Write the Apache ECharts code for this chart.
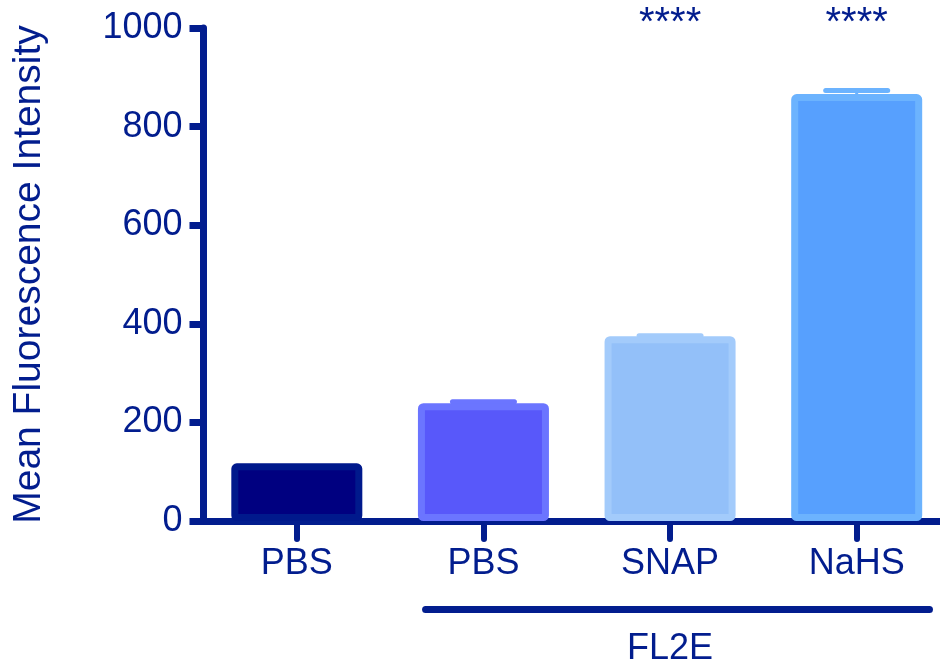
<!DOCTYPE html>
<html>
<head>
<meta charset="utf-8">
<script src="https://cdn.jsdelivr.net/npm/echarts@6/dist/echarts.min.js"></script>
<style>html,body{margin:0;padding:0;background:#fff;overflow:hidden;width:940px;height:670px}#c{width:950px;height:670px}</style>
</head>
<body>
<div id="c"></div>
<script>
var categories = ['PBS', 'PBS', 'SNAP', 'NaHS'];
var means = [117, 239, 375, 866];
var errors = [0, 3, 1, 7];
var stars = ['', '', '****', '****'];
var groupLabel = 'FL2E';
var groupStart = 1, groupEnd = 3;
var yTicks = [0, 200, 400, 600, 800, 1000];

var fills = ['#000080', '#5858fa', '#93c0f9', '#57a0fe'];
var borders = ['#00198c', '#6b75ff', '#a3cbfb', '#6cb3fe'];
var ink = '#021d8e';
var font = '"Liberation Sans", Arial, Helvetica, sans-serif';

var chart = echarts.init(document.getElementById('c'), null, {renderer: 'canvas'});

var barData = means.map(function (v, i) {
  return {value: v, itemStyle: {color: fills[i], borderColor: borders[i], borderWidth: 7, borderRadius: 2}};
});
var errData = means.map(function (v, i) { return [i, v, errors[i]]; });

chart.setOption({
  animation: false,
  backgroundColor: '#fff',
  grid: {left: 203.5, right: 0, top: 28, bottom: 149, containLabel: false},
  xAxis: {
    type: 'category',
    data: categories,
    axisLine: {show: true, lineStyle: {color: ink, width: 7}},
    axisTick: {show: true, alignWithLabel: true, length: 18, lineStyle: {color: ink, width: 6, cap: 'round'}},
    axisLabel: {color: ink, fontSize: 36, fontFamily: font, margin: 25, interval: 0}
  },
  yAxis: {
    type: 'value',
    min: 0, max: 1000, interval: 200,
    name: 'Mean Fluorescence Intensity',
    nameLocation: 'middle',
    nameGap: 155,
    nameTextStyle: {color: ink, fontSize: 39, fontFamily: font},
    axisLine: {show: true, lineStyle: {color: ink, width: 7}},
    axisTick: {show: true, length: 14, lineStyle: {color: ink, width: 7}},
    axisLabel: {color: ink, fontSize: 36, fontFamily: font, margin: 21,
      formatter: function (v) { return yTicks.indexOf(v) >= 0 ? String(v) : ''; }},
    splitLine: {show: false}
  },
  series: [
    {
      type: 'custom',
      name: 'err',
      clip: false,
      z: 1,
      data: errData,
      renderItem: function (params, api) {
        var i = params.dataIndex;
        var x = api.value(0), m = api.value(1), e = api.value(2);
        var base = api.coord([x, m]);
        var top = api.coord([x, m + e]);
        var children = [];
        if (e > 0) {
          children.push({type: 'line', shape: {x1: top[0], y1: top[1], x2: base[0], y2: base[1] + 4},
            style: {stroke: borders[i], lineWidth: 3}});
          children.push({type: 'line', shape: {x1: top[0] - 31, y1: top[1], x2: top[0] + 31, y2: top[1]},
            style: {stroke: borders[i], lineWidth: 5, lineCap: 'round'}});
        }
        if (stars[i]) {
          var yTop = api.coord([x, 1000])[1];
          children.push({type: 'text', x: base[0], y: yTop - 4,
            style: {text: stars[i], fill: ink, font: '40px ' + font, align: 'center', verticalAlign: 'middle'}});
        }
        return {type: 'group', children: children};
      }
    },
    {
      type: 'bar',
      name: 'MFI',
      z: 2,
      barWidth: 131,
      data: barData
    },
    {
      type: 'custom',
      name: 'group',
      clip: false,
      z: 3,
      data: [[groupStart, groupEnd, 0]],
      renderItem: function (params, api) {
        var a = api.coord([api.value(0), 0]);
        var b = api.coord([api.value(1), 0]);
        var band = api.size([1, 0])[0];
        var x1 = a[0] - 0.31 * band, x2 = b[0] + 0.39 * band;
        var y = a[1] + 88.5;
        return {type: 'group', children: [
          {type: 'line', shape: {x1: x1, y1: y, x2: x2, y2: y}, style: {stroke: ink, lineWidth: 7, lineCap: 'round'}},
          {type: 'text', x: (a[0] + b[0]) / 2, y: y + 40,
            style: {text: groupLabel, fill: ink, font: '36px ' + font, align: 'center', verticalAlign: 'middle'}}
        ]};
      }
    }
  ]
});
</script>
</body>
</html>
